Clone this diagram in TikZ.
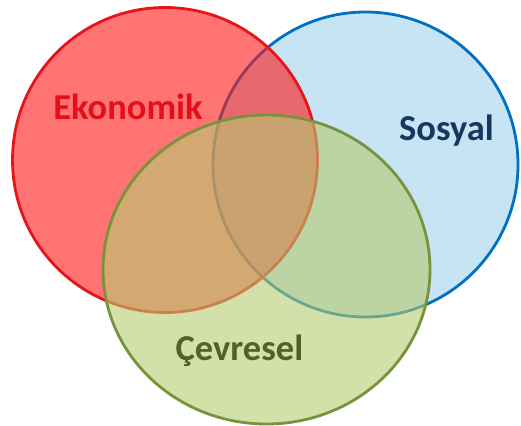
\documentclass[tikz,border=0pt]{standalone}
\usepackage{fontspec}
\setmainfont{Carlito}
\usepackage{tikz}
\definecolor{ekoline}{HTML}{E8141C}
\definecolor{ekofill}{HTML}{FF1616}
\definecolor{sosline}{HTML}{0070C0}
\definecolor{sosfill}{HTML}{A0D2ED}
\definecolor{cevline}{HTML}{77933C}
\definecolor{cevfill}{HTML}{B6CB70}
\definecolor{ekotext}{HTML}{E3101C}
\definecolor{sostext}{HTML}{17375E}
\definecolor{cevtext}{HTML}{4F6228}
\tikzset{
    set/.style={line width=2.8pt, fill opacity=0.6},
    setlabel/.style={anchor=base, font=\bfseries\fontsize{36.5}{40}\selectfont, inner sep=0pt}
}
\newcommand{\setcircle}[4]{
    \draw[set, draw=#1, fill=#2] (#3) circle[#4];
}

\begin{document}
\begin{tikzpicture}[x=1pt, y=-1pt]
        \useasboundingbox (0,0) rectangle (521,425);
        \coordinate (sos) at (365.5,164.5);
        \coordinate (eko) at (165,160);
        \coordinate (cev) at (266.5,269.5);
        \setcircle{sosline}{sosfill}{sos}{radius=152.5}
        \setcircle{ekoline}{ekofill}{eko}{radius=152.5}
        \setcircle{cevline}{cevfill}{cev}{x radius=163.5, y radius=154.5}
        \node[setlabel, text=ekotext] (ekolabel) at (128,119) {Ekonomik};
        \node[setlabel, text=sostext] (soslabel) at (446.5,140) {Sosyal};
        \node[setlabel, text=cevtext] (cevlabel) at (239.5,360) {Çevresel};
    \end{tikzpicture}
\end{document}
